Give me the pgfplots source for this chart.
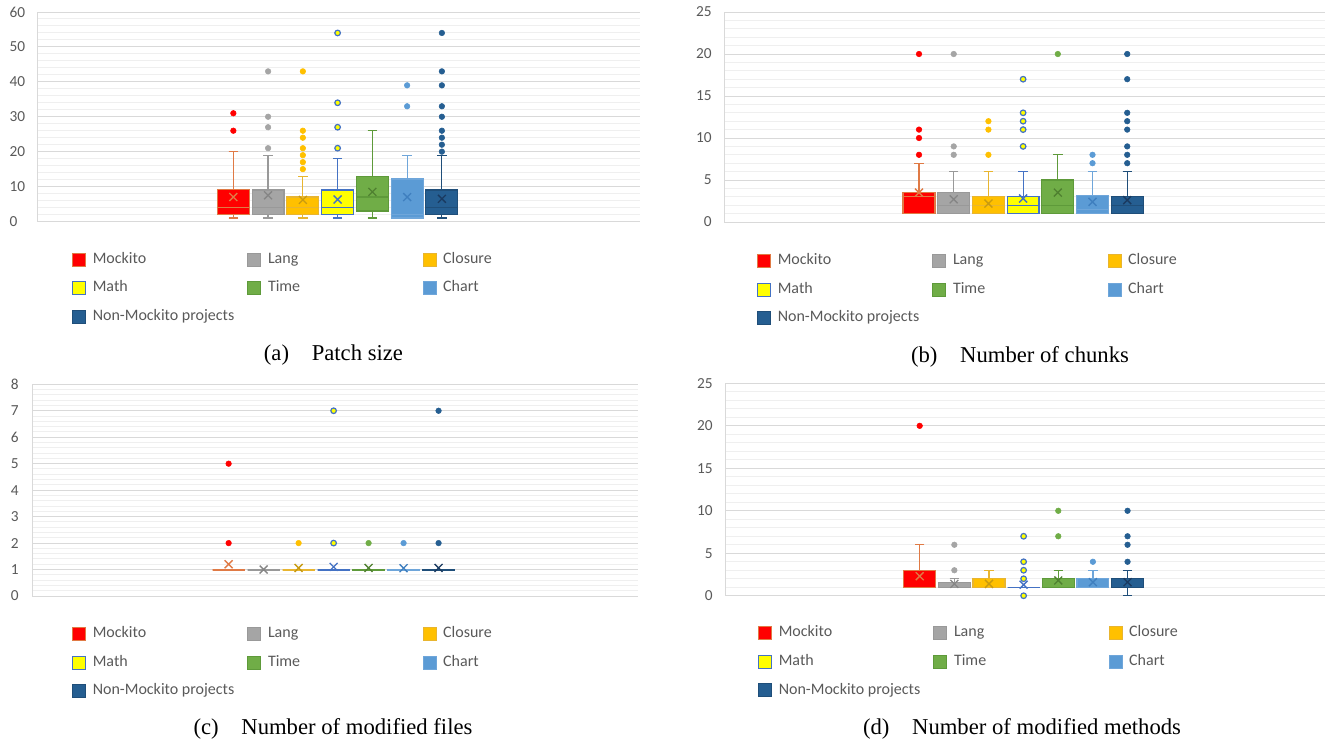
\documentclass[border=0pt]{standalone}
\usepackage{fontspec}
\setmainfont{Liberation Serif}
\newfontfamily\calib{Carlito}
\usepackage{pgfplots}
\pgfplotsset{compat=1.18}
\usepgfplotslibrary{statistics}

\definecolor{cGridMaj}{HTML}{D9D9D9}
\definecolor{cGridMin}{HTML}{EFEFEF}
\definecolor{cTxt}{HTML}{595959}
\definecolor{cMock}{HTML}{FF0000}
\definecolor{cMockD}{HTML}{E07A45}
\definecolor{cLang}{HTML}{A5A5A5}
\definecolor{cLangD}{HTML}{999999}
\definecolor{cLangM}{HTML}{858585}
\definecolor{cClo}{HTML}{FFC000}
\definecolor{cCloD}{HTML}{E8B530}
\definecolor{cCloM}{HTML}{C89A10}
\definecolor{cMath}{HTML}{FFFF00}
\definecolor{cMathD}{HTML}{4472C4}
\definecolor{cTime}{HTML}{70AD47}
\definecolor{cTimeD}{HTML}{5E9A3A}
\definecolor{cTimeM}{HTML}{4F8030}
\definecolor{cChart}{HTML}{5B9BD5}
\definecolor{cChartD}{HTML}{6FA6DA}
\definecolor{cChartM}{HTML}{3F7FBF}
\definecolor{cNon}{HTML}{255E91}
\definecolor{cNonD}{HTML}{1F4E79}
\definecolor{cNonM}{HTML}{1A3A60}

\pgfplotsset{
  legend image code/.code={\draw[#1] (0pt,-4.875pt) rectangle (9.75pt,4.875pt);},
  panel/.style={
    scale only axis, clip=false,
    xmin=-4.62, xmax=12.7, xtick=\empty,
    axis x line*=bottom, axis y line*=left,
    axis line style={-, draw=cGridMaj, line width=0.75pt},
    ymajorgrids, yminorgrids,
    major grid style={draw=cGridMaj, line width=0.75pt},
    minor grid style={draw=cGridMin, line width=0.75pt},
    minor y tick num=4,
    major tick length=0pt, minor tick length=0pt,
    tick style={draw=none},
    /pgf/number format/assume math mode=true,
    boxplot/draw direction=y,
    boxplot/box extend=0.92, boxplot/whisker extend=0.27,
    legend columns=3, legend cell align=left,
    legend style={at={(0,0)}, anchor=north west, draw=none, fill=none, inner sep=0pt,
      font=\calib\fontsize{12}{14}\selectfont, text=cTxt, row sep=10.2pt, column sep=0pt,
      /tikz/every odd column/.append style={column sep=5.25pt},
      nodes={inner sep=0pt, text height=8.5pt, text depth=2.8pt}},
  },
  sA/.style={fill=cMock, draw=cMockD, line width=0.9pt, mark=*, mark size=2.1pt, mark options={solid, fill=cMock, draw=cMock, line width=0.4pt}},
  sB/.style={fill=cLang, draw=cLangD, line width=0.9pt, mark=*, mark size=2.1pt, mark options={solid, fill=cLang, draw=cLang, line width=0.4pt}},
  sC/.style={fill=cClo, draw=cCloD, line width=0.9pt, mark=*, mark size=2.1pt, mark options={solid, fill=cClo, draw=cClo, line width=0.4pt}},
  sD/.style={fill=cMath, draw=cMathD, line width=0.9pt, mark=*, mark size=2.1pt, mark options={solid, fill=cMath, draw=cMathD, line width=0.9pt}},
  sE/.style={fill=cTime, draw=cTimeD, line width=0.9pt, mark=*, mark size=2.1pt, mark options={solid, fill=cTime, draw=cTime, line width=0.4pt}},
  sF/.style={fill=cChart, draw=cChartD, line width=0.9pt, mark=*, mark size=2.1pt, mark options={solid, fill=cChart, draw=cChart, line width=0.4pt}},
  sG/.style={fill=cNon, draw=cNonD, line width=0.9pt, mark=*, mark size=2.1pt, mark options={solid, fill=cNon, draw=cNon, line width=0.4pt}},
}

% pos, lower whisker, Q1, median, Q3, upper whisker, style, outliers (rows "v\\")
\newcommand{\bx}[8]{\addplot[#7, forget plot, boxplot prepared={draw position=#1, lower whisker=#2, lower quartile=#3, median=#4, upper quartile=#5, upper whisker=#6}] table[row sep=\\, y index=0] {d\\ #8};}
% same, without outliers
\newcommand{\bxn}[7]{\addplot[#7, forget plot, boxplot prepared={draw position=#1, lower whisker=#2, lower quartile=#3, median=#4, upper quartile=#5, upper whisker=#6}] coordinates {};}
% pos, mean, colour
\newcommand{\mn}[3]{\addplot[forget plot, only marks, mark=x, mark size=4.2pt, mark options={draw=#3, line width=1pt}] coordinates {(#1,#2)};}

\newcommand{\legs}{%
\addlegendimage{fill=cMock, draw=cMockD}\addlegendentry{\makebox[116pt][l]{Mockito}}
\addlegendimage{fill=cLang, draw=cLangD}\addlegendentry{\makebox[116pt][l]{Lang}}
\addlegendimage{fill=cClo, draw=cCloD}\addlegendentry{\makebox[116pt][l]{Closure}}
\addlegendimage{fill=cMath, draw=cMathD}\addlegendentry{\makebox[116pt][l]{Math}}
\addlegendimage{fill=cTime, draw=cTimeD}\addlegendentry{\makebox[116pt][l]{Time}}
\addlegendimage{fill=cChart, draw=cChartD}\addlegendentry{\makebox[116pt][l]{Chart}}
\addlegendimage{fill=cNon, draw=cNonD}\addlegendentry{\makebox[116pt][l]{Non-Mockito projects}}
}

\begin{document}
\begin{tikzpicture}
\path[use as bounding box] (0pt,0pt) rectangle (997.5pt,-559.5pt);

% (a) Patch size
\begin{axis}[panel, at={(28.5pt,-166.125pt)}, anchor=south west,
  width=451.5pt, height=157.125pt, ymin=0, ymax=60, ytick distance=10,
  yticklabel style={font=\calib\fontsize{11.5}{13}\selectfont, text=cTxt, inner xsep=0pt, anchor=west, xshift=-21.5pt},
  legend style={xshift=25.5pt, yshift=-22.5pt}]
\bx{1}{1}{2}{4}{9.25}{20}{sA}{31\\ 26\\}
\bx{2}{1}{2}{4}{9}{19}{sB}{43\\ 30\\ 27\\ 21\\}
\bx{3}{1}{2}{4}{7}{13}{sC}{43\\ 26\\ 24\\ 21\\ 19\\ 17\\ 15\\}
\bx{4}{1}{2}{4}{9}{18}{sD}{54\\ 34\\ 27\\ 21\\}
\bxn{5}{1}{3}{7}{12.8}{26}{sE}
\bx{6}{1}{1}{2}{12.2}{19}{sF}{39\\ 33\\}
\bx{7}{1}{2}{4}{9}{19}{sG}{54\\ 43\\ 39\\ 33\\ 30\\ 26\\ 24\\ 22\\ 20\\}
\mn{1}{7.0}{cMockD}
\mn{2}{7.5}{cLangM}
\mn{3}{6.2}{cCloM}
\mn{4}{6.3}{cMathD}
\mn{5}{8.5}{cTimeM}
\mn{6}{7.0}{cChartM}
\mn{7}{6.5}{cNonM}
\legs
\end{axis}

% (b) Number of chunks
\begin{axis}[panel, at={(543pt,-166.5pt)}, anchor=south west,
  width=450.75pt, height=157.5pt, ymin=0, ymax=25, ytick distance=5,
  yticklabel style={font=\calib\fontsize{11.5}{13}\selectfont, text=cTxt, inner xsep=0pt, xshift=-9pt},
  legend style={xshift=24.75pt, yshift=-23.25pt}]
\bx{1}{1}{1}{3}{3.5}{7}{sA}{20\\ 11\\ 10\\ 8\\}
\bx{2}{1}{1}{2}{3.5}{6}{sB}{20\\ 9\\ 8\\}
\bx{3}{1}{1}{2}{3}{6}{sC}{12\\ 11\\ 8\\}
\bx{4}{1}{1}{2}{3}{6}{sD}{17\\ 13\\ 12\\ 11\\ 9\\}
\bx{5}{1}{1}{2}{5}{8}{sE}{20\\}
\bx{6}{1}{1}{1.5}{3.2}{6}{sF}{8\\ 7\\}
\bx{7}{1}{1}{2}{3}{6}{sG}{20\\ 17\\ 13\\ 12\\ 11\\ 9\\ 8\\ 7\\}
\mn{1}{3.5}{cMockD}
\mn{2}{2.7}{cLangM}
\mn{3}{2.2}{cCloM}
\mn{4}{2.8}{cMathD}
\mn{5}{3.5}{cTimeM}
\mn{6}{2.4}{cChartM}
\mn{7}{2.6}{cNonM}
\legs
\end{axis}

% (c) Number of modified files
\begin{axis}[panel, at={(24pt,-447pt)}, anchor=south west,
  width=454.5pt, height=158.8pt, ymin=0, ymax=8, ytick distance=1,
  yticklabel style={font=\calib\fontsize{11.5}{13}\selectfont, text=cTxt, inner xsep=0pt, xshift=-9.75pt},
  legend style={xshift=30pt, yshift=-22.5pt}]
\bx{1}{1}{1}{1}{1}{1}{sA, line width=1.5pt}{5\\ 2\\}
\bxn{2}{1}{1}{1}{1}{1}{sB, line width=1.5pt}
\bx{3}{1}{1}{1}{1}{1}{sC, line width=1.5pt}{2\\}
\bx{4}{1}{1}{1}{1}{1}{sD, line width=1.5pt}{7\\ 2\\}
\bx{5}{1}{1}{1}{1}{1}{sE, line width=1.5pt}{2\\}
\bx{6}{1}{1}{1}{1}{1}{sF, line width=1.5pt}{2\\}
\bx{7}{1}{1}{1}{1}{1}{sG, line width=1.5pt}{7\\ 2\\}
\mn{1}{1.2}{cMockD}
\mn{2}{1.0}{cLangM}
\mn{3}{1.06}{cCloM}
\mn{4}{1.1}{cMathD}
\mn{5}{1.06}{cTimeM}
\mn{6}{1.05}{cChartM}
\mn{7}{1.06}{cNonM}
\legs
\end{axis}

% (d) Number of modified methods
\begin{axis}[panel, at={(543.75pt,-446.8pt)}, anchor=south west,
  width=450pt, height=159.3pt, ymin=0, ymax=25, ytick distance=5,
  yticklabel style={font=\calib\fontsize{11.5}{13}\selectfont, text=cTxt, inner xsep=0pt, xshift=-9pt},
  legend style={xshift=24.75pt, yshift=-22pt}]
\bx{1}{1}{1}{1}{3}{6}{sA}{20\\}
\bx{2}{1}{1}{1}{1.6}{2}{sB}{6\\ 3\\}
\bxn{3}{1}{1}{1}{2}{3}{sC}
\bx{4}{1}{1}{1}{1}{1}{sD}{7\\ 4\\ 3\\ 2\\ 0\\}
\bx{5}{1}{1}{1}{2}{3}{sE}{10\\ 7\\}
\bx{6}{1}{1}{1}{2}{3}{sF}{4\\}
\bx{7}{0}{1}{1}{2}{3}{sG}{10\\ 7\\ 6\\ 4\\}
\mn{1}{2.3}{cMockD}
\mn{2}{1.4}{cLangM}
\mn{3}{1.4}{cCloM}
\mn{4}{1.3}{cMathD}
\mn{5}{1.8}{cTimeM}
\mn{6}{1.6}{cChartM}
\mn{7}{1.6}{cNonM}
\legs
\end{axis}

\node[font=\fontsize{17}{20}\selectfont] at (250.1pt,-266.25pt) {(a)\hspace{17pt}Patch size};
\node[font=\fontsize{17}{20}\selectfont] at (765pt,-267.75pt) {(b)\hspace{17pt}Number of chunks};
\node[font=\fontsize{17}{20}\selectfont] at (249.75pt,-546.75pt) {(c)\hspace{17pt}Number of modified files};
\node[font=\fontsize{17}{20}\selectfont] at (766.5pt,-546.75pt) {(d)\hspace{17pt}Number of modified methods};
\end{tikzpicture}
\end{document}
